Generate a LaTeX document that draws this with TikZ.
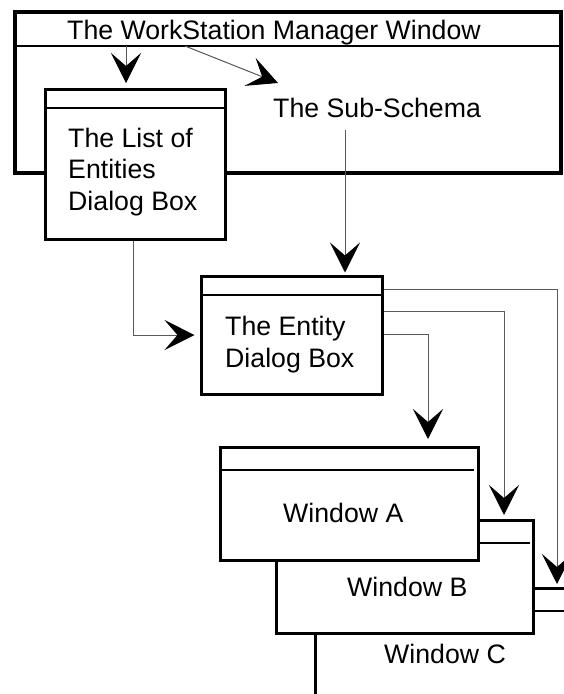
\documentclass[tikz,border=0pt]{standalone}
\usepackage{fontspec}
\setmainfont{Liberation Sans}
\usetikzlibrary{arrows.meta}
\begin{document}
\begin{tikzpicture}[x=1pt,y=-1pt,
  win/.style={draw=black,fill=white,line width=3pt,rectangle,inner sep=0pt},
  frm/.style={draw=black,line width=4pt,rectangle,inner sep=0pt},
  bar/.style={draw=black,line width=2.5pt},
  lbl/.style={inner sep=0pt,anchor=base west,font=\fontsize{26.7}{31.5}\selectfont},
  conn/.style={draw=black!65,line width=1pt},
  head/.style={-{Stealth[length=30pt,width=30pt,inset=13pt,color=black]}},
]
\clip (0,0) rectangle (564,694);
\fill[white] (0,0) rectangle (564,694);

% WorkStation Manager window frame
\node[frm,minimum width=546pt,minimum height=161pt] (wsm) at (288,92.5) {};
\draw[bar] (wsm.west |- 0,46) -- (wsm.east |- 0,46);
\node[lbl] (wsmtxt) at (67,39) {The WorkStation Manager Window};
\node[lbl] (sub) at (273,117) {The Sub-Schema};

% List of Entities dialog box
\node[win,minimum width=180pt,minimum height=150pt] (list) at (135,164) {};
\draw[bar] (list.west |- 0,108) -- (list.east |- 0,108);
\node[lbl] (list1) at (68,147) {The List of};
\node[lbl] (list2) at (68,178.5) {Entities};
\node[lbl] (list3) at (68,210) {Dialog Box};

% Entity dialog box
\node[win,minimum width=181pt,minimum height=118pt] (entity) at (291.5,335) {};
\draw[bar] (entity.west |- 0,295) -- (entity.east |- 0,295);
\node[lbl] (ent1) at (225,335) {The Entity};
\node[lbl] (ent2) at (225,367) {Dialog Box};

% Windows C, B, A
\node[win,minimum width=257pt,minimum height=113pt] (winC) at (443.5,644.5) {};
\draw[bar] (winC.west |- 0,611) -- (winC.east |- 0,611);
\node[lbl] (winCtxt) at (384,663) {Window C};

\node[win,minimum width=257pt,minimum height=113pt] (winB) at (404.5,576.5) {};
\draw[bar] (winB.west |- 0,543) -- (530,543);
\node[lbl] (winBtxt) at (347,596) {Window B};

\node[win,minimum width=258pt,minimum height=113pt] (winA) at (349,503.5) {};
\draw[bar] (winA.west |- 0,470) -- (474,470);
\node[lbl] (winAtxt) at (283,522) {Window A};

% connectors
\coordinate (w1) at (126,46);
\coordinate (w2) at (185,46);
\coordinate (subin) at (278,83);
\coordinate (subout) at (345,130);
\coordinate (c1) at (557,289);
\coordinate (c2) at (504,311);
\coordinate (c3) at (428,334);

\draw[conn,head,shorten >=4.5pt] (w1) -- (w1 |- list.north);
\draw[conn,head] (w2) -- (subin);
\draw[conn,head,shorten >=2pt] (subout) -- (subout |- entity.north);
\draw[conn,head,shorten >=5pt] ([xshift=-2pt]list.south) |- (entity.west);
\draw[conn,head,shorten >=2.5pt] (entity.east |- c1) -- (c1) -- (c1 |- winC.north);
\draw[conn,head,shorten >=3.5pt] (entity.east |- c2) -- (c2) -- (c2 |- winB.north);
\draw[conn,head,shorten >=6.5pt] (entity.east |- c3) -- (c3) -- (c3 |- winA.north);
\end{tikzpicture}
\end{document}
